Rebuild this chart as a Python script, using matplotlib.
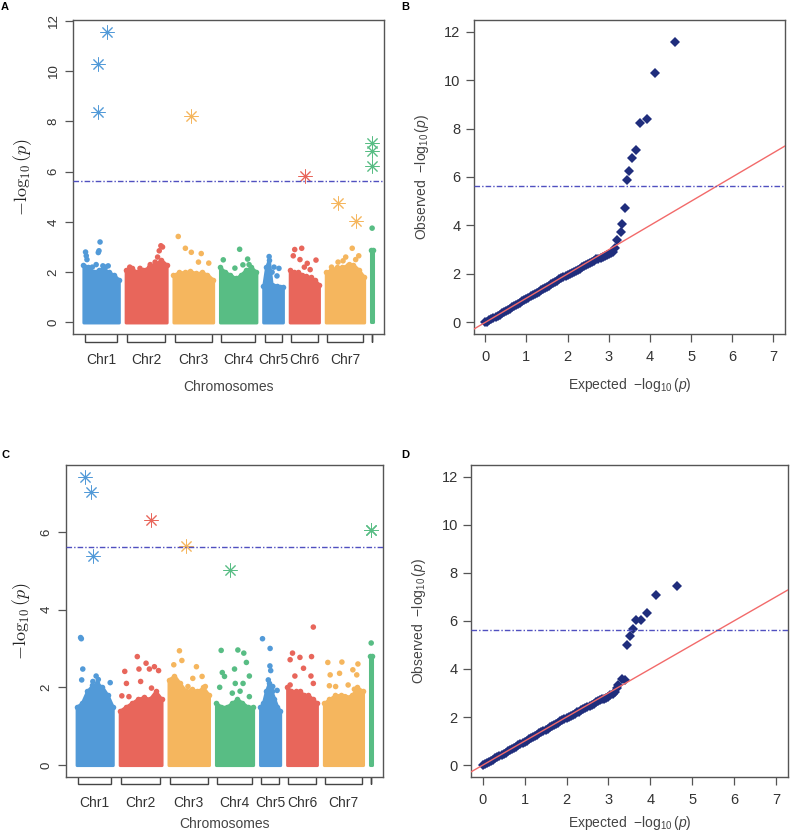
import numpy as np
import matplotlib
matplotlib.use("Agg")
import matplotlib.pyplot as plt
from matplotlib.transforms import blended_transform_factory

plt.rcParams['font.family'] = ['Liberation Sans', 'DejaVu Sans']
plt.rcParams['mathtext.fontset'] = 'custom'
plt.rcParams['mathtext.rm'] = 'Liberation Sans'
plt.rcParams['mathtext.it'] = 'Liberation Sans:italic'

# ---- chromosomes ----
chroms = ["Chr1", "Chr2", "Chr3", "Chr4", "Chr5", "Chr6", "Chr7", ""]
chr_len = [108, 125, 121, 111, 60, 89, 117, 7]
chr_colors = ["#529ad8", "#e8665b", "#f5b65e", "#58bd84",
              "#529ad8", "#e8665b", "#f5b65e", "#58bd84"]
threshold = 5.62

# ---- panel A (Manhattan) ----
bodyA = [[2.3, 2.2, 2.0, 2.1, 2.15, 2.0, 1.9, 1.7],
         [2.1, 2.15, 2.0, 2.1, 2.2, 2.3, 2.5, 2.3],
         [1.9, 2.0, 2.0, 2.05, 1.95, 2.0, 1.9, 1.7],
         [2.2, 2.0, 1.9, 1.75, 1.9, 2.1, 2.2, 2.0],
         [1.45, 2.2, 2.5, 1.5, 1.45, 1.45, 1.4, 1.4],
         [2.1, 2.0, 2.0, 1.9, 1.85, 1.8, 1.7, 1.5],
         [2.0, 2.1, 2.2, 2.2, 2.3, 2.3, 2.1, 1.8],
         [2.9, 2.9]]
dotsA_chr = [0]*11 + [1]*8 + [2]*6 + [3]*6 + [4]*5 + [5]*8 + [6]*8 + [7]
dotsA_pos = [0.06, 0.08, 0.10, 0.47, 0.44, 0.42, 0.55, 0.62, 0.70, 0.36, 0.25,
             0.78, 0.82, 0.86, 0.90, 0.72, 0.60, 0.10, 0.35,
             0.12, 0.30, 0.45, 0.70, 0.63, 0.89,
             0.09, 0.41, 0.54, 0.63, 0.76, 0.80,
             0.30, 0.45, 0.55, 0.80, 0.70,
             0.17, 0.41, 0.12, 0.90, 0.60, 0.35, 0.50, 0.70,
             0.15, 0.32, 0.52, 0.69, 0.86, 0.62, 0.45, 0.78,
             0.5]
dotsA_logp = [2.80, 2.65, 2.50, 3.20, 2.85, 2.78, 2.25, 2.20, 2.25, 2.30, 2.20,
              2.60, 2.85, 3.05, 3.00, 2.40, 2.30, 2.20, 2.15,
              3.42, 2.95, 2.79, 2.74, 2.40, 2.36,
              2.49, 2.16, 2.91, 2.29, 2.52, 2.30,
              2.62, 2.00, 2.20, 2.15, 1.85,
              2.90, 2.95, 2.65, 2.48, 2.35, 2.50, 2.20, 2.10,
              2.20, 2.40, 2.60, 2.95, 2.65, 2.30, 2.45, 2.50,
              3.75]
starsA_chr = [0, 0, 0, 2, 5, 6, 6, 7, 7, 7]
starsA_pos = [0.40, 0.42, 0.68, 0.44, 0.51, 0.32, 0.80, 0.5, 0.5, 0.5]
starsA_logp = [8.38, 10.28, 11.55, 8.20, 5.84, 4.74, 4.05, 7.15, 6.80, 6.23]

# ---- panel C (Manhattan) ----
bodyC = [[1.5, 1.6, 1.9, 2.05, 2.1, 2.0, 1.8, 1.5],
         [1.4, 1.5, 1.6, 1.7, 1.75, 1.7, 1.9, 1.7],
         [2.2, 2.3, 2.1, 1.9, 1.95, 1.9, 2.0, 1.8],
         [1.6, 1.5, 1.5, 1.6, 1.7, 1.6, 1.5, 1.5],
         [1.5, 1.6, 1.9, 2.1, 1.9, 1.7, 1.5, 1.4],
         [2.0, 1.9, 1.9, 1.9, 1.8, 1.8, 1.7, 1.6],
         [1.6, 1.7, 1.8, 1.8, 1.75, 1.8, 2.0, 1.9],
         [2.8, 2.8]]
dotsC_chr = [0]*8 + [1]*12 + [2]*8 + [3]*14 + [4]*7 + [5]*10 + [6]*12 + [7]
dotsC_pos = [0.11, 0.13, 0.17, 0.14, 0.54, 0.93, 0.60, 0.45,
             0.42, 0.63, 0.83, 0.93, 0.12, 0.46, 0.71, 0.16, 0.50, 0.05, 0.22, 0.76,
             0.27, 0.33, 0.13, 0.69, 0.60, 0.83, 0.91, 0.48,
             0.14, 0.59, 0.75, 0.82, 0.50, 0.17, 0.90, 0.23, 0.52, 0.73, 0.10, 0.65, 0.90, 0.44,
             0.12, 0.50, 0.49, 0.53, 0.41, 0.63, 0.85,
             0.88, 0.18, 0.43, 0.82, 0.10, 0.55, 0.26, 0.80, 0.88, 0.10,
             0.10, 0.46, 0.87, 0.16, 0.40, 0.74, 0.84, 0.14, 0.30, 0.62, 0.54, 0.78,
             0.5]
dotsC_logp = [3.28, 3.25, 2.47, 2.19, 2.29, 2.12, 2.20, 2.15,
              2.79, 2.62, 2.53, 2.43, 2.41, 2.47, 2.47, 2.10, 2.15, 1.78, 1.76, 1.98,
              2.94, 2.69, 2.58, 2.53, 2.23, 2.28, 2.02, 2.02,
              2.95, 2.96, 2.88, 2.64, 2.47, 2.38, 2.29, 2.28, 2.10, 2.10, 2.00, 1.90, 1.76, 1.85,
              3.25, 3.00, 2.55, 2.43, 2.19, 2.02, 1.92,
              3.55, 2.88, 2.77, 2.79, 2.71, 2.49, 2.29, 2.29, 2.10, 2.06,
              2.64, 2.65, 2.60, 2.32, 2.36, 2.45, 2.32, 2.04, 2.02, 2.06, 1.76, 1.95,
              3.14]
starsC_chr = [0, 0, 0, 1, 2, 3, 7, 7]
starsC_pos = [0.22, 0.41, 0.45, 0.76, 0.43, 0.38, 0.5, 0.5]
starsC_logp = [7.41, 7.03, 5.39, 6.31, 5.63, 5.01, 6.04, 6.05]

# ---- panel B (QQ) ----
expB = [0.00, 0.05, 0.10, 0.15, 0.20, 0.25, 0.30, 0.35, 0.40, 0.45, 0.50, 0.55,
        0.60, 0.65, 0.70, 0.75, 0.80, 0.85, 0.90, 0.95, 1.00, 1.05, 1.10, 1.15,
        1.20, 1.25, 1.30, 1.35, 1.40, 1.45, 1.50, 1.55, 1.60, 1.65, 1.70, 1.75,
        1.80, 1.85, 1.90, 1.95, 2.00, 2.05, 2.10, 2.15, 2.20, 2.25, 2.30, 2.35,
        2.40, 2.45, 2.50, 2.55, 2.60, 2.65, 2.70, 2.75, 2.80, 2.85, 2.90, 2.95,
        3.00, 3.05, 3.10, 3.15, 3.19, 3.29, 3.33, 3.39, 3.44, 3.50, 3.57, 3.65,
        3.76, 3.92, 4.13, 4.62]
obsB = [0.00, 0.03, 0.08, 0.13, 0.18, 0.23, 0.28, 0.32, 0.37, 0.42, 0.47, 0.52,
        0.57, 0.62, 0.67, 0.72, 0.77, 0.82, 0.87, 0.92, 0.97, 1.02, 1.07, 1.12,
        1.17, 1.22, 1.27, 1.32, 1.37, 1.42, 1.47, 1.52, 1.57, 1.62, 1.67, 1.72,
        1.77, 1.82, 1.87, 1.92, 1.97, 2.01, 2.05, 2.09, 2.13, 2.18, 2.22, 2.27,
        2.31, 2.36, 2.41, 2.46, 2.50, 2.55, 2.60, 2.63, 2.67, 2.71, 2.75, 2.79,
        2.83, 2.87, 2.92, 3.05, 3.41, 3.75, 4.07, 4.73, 5.86, 6.24, 6.79, 7.12,
        8.22, 8.40, 10.28, 11.57]

# ---- panel D (QQ) ----
expD = [0.00, 0.05, 0.10, 0.15, 0.20, 0.25, 0.30, 0.35, 0.40, 0.45, 0.50, 0.55,
        0.60, 0.65, 0.70, 0.75, 0.80, 0.85, 0.90, 0.95, 1.00, 1.05, 1.10, 1.15,
        1.20, 1.25, 1.30, 1.35, 1.40, 1.45, 1.50, 1.55, 1.60, 1.65, 1.70, 1.75,
        1.80, 1.85, 1.90, 1.95, 2.00, 2.05, 2.10, 2.15, 2.20, 2.25, 2.30, 2.35,
        2.40, 2.45, 2.50, 2.55, 2.60, 2.65, 2.70, 2.75, 2.80, 2.85, 2.90, 2.95,
        3.00, 3.05, 3.10, 3.15, 3.20, 3.24, 3.32, 3.40, 3.44, 3.52, 3.58, 3.66,
        3.78, 3.92, 4.14, 4.63]
obsD = [0.00, 0.03, 0.08, 0.13, 0.18, 0.23, 0.28, 0.33, 0.38, 0.43, 0.47, 0.52,
        0.57, 0.62, 0.67, 0.72, 0.77, 0.82, 0.87, 0.92, 0.97, 1.02, 1.07, 1.12,
        1.17, 1.22, 1.27, 1.32, 1.37, 1.42, 1.47, 1.52, 1.57, 1.62, 1.67, 1.72,
        1.77, 1.82, 1.87, 1.92, 1.97, 2.02, 2.06, 2.10, 2.14, 2.19, 2.23, 2.28,
        2.32, 2.37, 2.42, 2.47, 2.52, 2.56, 2.61, 2.65, 2.69, 2.73, 2.77, 2.81,
        2.85, 2.90, 2.95, 3.05, 3.20, 3.34, 3.57, 3.56, 5.01, 5.38, 5.66, 6.05,
        6.05, 6.33, 7.07, 7.44]

W, H = 792, 835
fig = plt.figure(figsize=(W / 100, H / 100), dpi=100)

frame_col = "#555555"
text_col = "#333333"
thr_col = "#5050c0"
navy = "#1f2d7c"
red_line = "#f26a6a"


def px_axes(l, t, r, b):
    return fig.add_axes([l / W, 1 - b / H, (r - l) / W, (b - t) / H])


def style_frame(ax):
    for s in ax.spines.values():
        s.set_color(frame_col)
        s.set_linewidth(1.0)
    ax.tick_params(colors=frame_col, labelcolor=text_col, labelsize=9.5,
                   length=5.5, width=0.9)


def manhattan(ax, body, d_chr, d_pos, d_logp, s_chr, s_pos, s_logp, ylim, yticks, ax_px):
    gap = 21
    starts = np.concatenate([[0], np.cumsum(np.array(chr_len) + gap)[:-1]])
    total = starts[-1] + chr_len[-1]
    for i in range(len(chroms)):
        top = np.array(body[i])
        xs = starts[i] + np.linspace(0, 1, len(top)) * chr_len[i]
        ax.fill_between(xs, 0, top, facecolor=chr_colors[i], edgecolor=chr_colors[i],
                        linewidth=2.2, joinstyle='round', zorder=2)
        ax.scatter(xs, top, s=16, color=chr_colors[i], linewidths=0, zorder=2)
    dx = starts[d_chr] + np.array(d_pos) * np.array(chr_len)[d_chr]
    ax.scatter(dx, d_logp, s=16, c=[chr_colors[c] for c in d_chr], linewidths=0, zorder=3)
    sx = starts[s_chr] + np.array(s_pos) * np.array(chr_len)[s_chr]
    for x, y, c in zip(sx, s_logp, s_chr):
        ax.plot(x, y, marker=(8, 2, 0), ms=10, mew=0.7, color=chr_colors[c],
                ls='none', zorder=4)
    ax.axhline(threshold, color=thr_col, lw=1.0, ls=(0, (4, 1.5, 1, 1.5)), zorder=5)

    pad = 0.037 * total
    ax.set_xlim(-pad, total + pad)
    ax.set_ylim(*ylim)
    ax.set_yticks(yticks)
    ax.set_yticklabels([str(v) for v in yticks], rotation=90, va='center')
    style_frame(ax)
    ax.tick_params(axis='y', pad=4)

    centers = starts + np.array(chr_len) / 2
    ax.set_xticks(centers[:7], chroms[:7])
    ax.tick_params(axis='x', length=0, pad=14, labelsize=10)

    # brackets under each chromosome
    trans = blended_transform_factory(ax.transData, ax.transAxes)
    y0, y1 = -1.0 / ax_px, -7.5 / ax_px
    for i in range(len(chroms)):
        a = starts[i] + 4
        b = starts[i] + chr_len[i] - 4
        if b < a:
            a = b = centers[i]
        ax.plot([a, a, b, b], [y0, y1, y1, y0], transform=trans, color="#444444",
                lw=1.0, clip_on=False, solid_joinstyle='miter')


def qq(ax, ex, ob):
    ax.plot(ex, ob, 'D', color=navy, ms=4.8, mew=0, zorder=2)
    ax.plot([-1, 9], [-1, 9], color=red_line, lw=1.0, zorder=3)
    ax.axhline(threshold, color=thr_col, lw=1.0, ls=(0, (4, 1.5, 1, 1.5)), zorder=4)
    ax.set_xlim(-0.28, 7.28)
    ax.set_ylim(-0.48, 12.48)
    ax.set_xticks(range(8))
    ax.set_yticks(range(0, 13, 2))
    style_frame(ax)
    ax.tick_params(axis='x', pad=6, labelsize=10.5)
    ax.tick_params(axis='y', pad=4, labelsize=10.5)


# ---- A ----
axA = px_axes(72.7, 20, 384, 334)
manhattan(axA, bodyA, dotsA_chr, dotsA_pos, dotsA_logp, starsA_chr, starsA_pos,
          starsA_logp, (-0.46, 12.03), [0, 2, 4, 6, 8, 10, 12], 314)
axA.set_ylabel(r'$-\log_{10}(p)$', fontsize=13, color="#222222", math_fontfamily='cm',
               va='center')
axA.yaxis.set_label_coords(-50 / 311, 0.5)
axA.set_xlabel('Chromosomes', fontsize=10, color="#444444", va='center')
axA.xaxis.set_label_coords(0.5, -53 / 314)

# ---- B ----
axB = px_axes(473.7, 20, 785, 334)
qq(axB, expB, obsB)
axB.set_ylabel(r'Observed  $-\log_{10}(p)$', fontsize=10, color="#444444", va='center')
axB.yaxis.set_label_coords(-52 / 311, 0.5)
axB.set_xlabel(r'Expected  $-\log_{10}(p)$', fontsize=10, color="#444444", va='center')
axB.xaxis.set_label_coords(0.5, -51 / 314)

# ---- C ----
axC = px_axes(65.7, 465, 383.3, 776.7)
manhattan(axC, bodyC, dotsC_chr, dotsC_pos, dotsC_logp, starsC_chr, starsC_pos,
          starsC_logp, (-0.30, 7.72), [0, 2, 4, 6], 312)
axC.set_ylabel(r'$-\log_{10}(p)$', fontsize=13, color="#222222", math_fontfamily='cm',
               va='center')
axC.yaxis.set_label_coords(-44 / 318, 0.5)
axC.set_xlabel('Chromosomes', fontsize=10, color="#444444", va='center')
axC.xaxis.set_label_coords(0.5, -47 / 312)

# ---- D ----
axD = px_axes(471, 465, 787.7, 776.7)
qq(axD, expD, obsD)
axD.set_ylabel(r'Observed  $-\log_{10}(p)$', fontsize=10, color="#444444", va='center')
axD.yaxis.set_label_coords(-52 / 317, 0.5)
axD.set_xlabel(r'Expected  $-\log_{10}(p)$', fontsize=10, color="#444444", va='center')
axD.xaxis.set_label_coords(0.5, -46 / 312)

# panel letters
for lab, x, y in [("A", 1, 7), ("B", 401, 7), ("C", 1, 455), ("D", 401, 455)]:
    fig.text(x / W, 1 - y / H, lab, fontsize=8, fontweight='bold', va='center', ha='left')

fig.savefig("out.png", dpi=100)
